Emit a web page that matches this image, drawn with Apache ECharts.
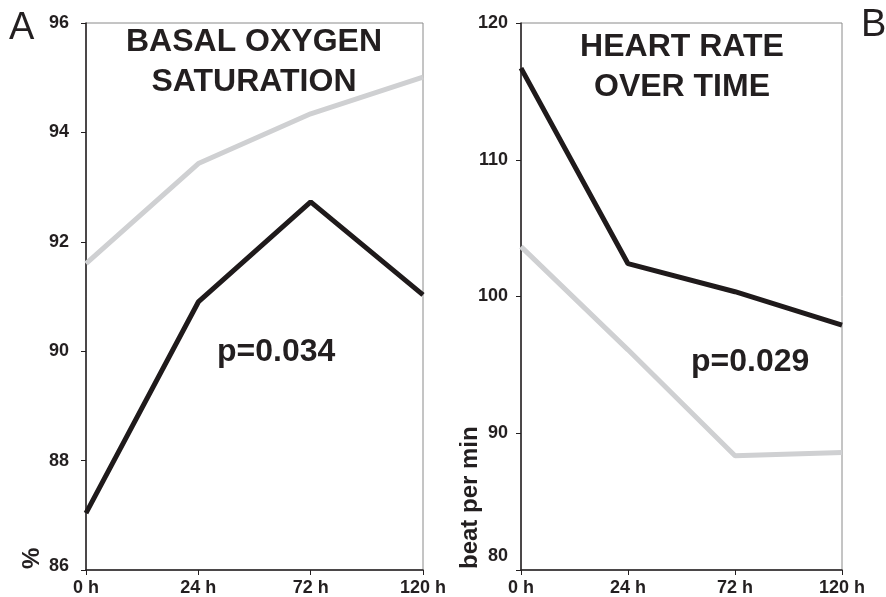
<!DOCTYPE html>
<html>
<head>
<meta charset="utf-8">
<script src="https://cdn.jsdelivr.net/npm/echarts@6/dist/echarts.min.js"></script>
<style>
  html, body { margin: 0; padding: 0; background: #fff; }
  #chart { width: 886px; height: 597px; }
</style>
</head>
<body>
<div id="chart"></div>
<script>
const hours = ['0 h', '24 h', '72 h', '120 h'];

// basal oxygen saturation (%)
const oxygenBlack = [87.04, 90.9, 92.73, 91.03];
const oxygenGray = [91.6, 93.43, 94.34, 95.01];

// heart rate (beat per min)
const heartBlack = [116.7, 102.4, 100.35, 97.9];
const heartGray = [103.65, 96.1, 88.35, 88.6];

const inkColor = '#231f20';
const blackLine = '#1f1a1b';
const grayLine = '#cfd0d2';
const fontFamily = 'Liberation Sans, Arial, sans-serif';

const chart = echarts.init(document.getElementById('chart'));

const xAxisBase = {
  type: 'category',
  data: hours,
  boundaryGap: false,
  axisLine: { lineStyle: { color: inkColor, width: 1.5 } },
  axisTick: { show: true, length: 5, lineStyle: { color: inkColor } },
  axisLabel: { color: inkColor, fontSize: 18, fontWeight: 'bold', fontFamily, margin: 9 },
  splitLine: { show: false }
};

// bottom label is nudged up a bit so it clears the x labels
function yAxisFor(gridIndex, min, max, interval, margin, lift) {
  return {
    type: 'value',
    gridIndex,
    min,
    max,
    interval,
    axisLine: { show: true, lineStyle: { color: inkColor, width: 1.5 } },
    axisTick: { show: true, length: 5, lineStyle: { color: inkColor } },
    splitLine: { show: false },
    axisLabel: {
      color: inkColor,
      fontSize: 18,
      fontWeight: 'bold',
      fontFamily,
      margin,
      formatter: v => (v === min ? '{low|' + v + '}' : String(v)),
      rich: { low: { fontSize: 18, fontWeight: 'bold', fontFamily, color: inkColor, padding: [0, 0, lift, 0] } }
    }
  };
}

function lineSeries(xi, data, color) {
  return {
    type: 'line',
    xAxisIndex: xi,
    yAxisIndex: xi,
    data,
    symbol: 'none',
    lineStyle: { color, width: 5 },
    z: color === grayLine ? 2 : 3
  };
}

const option = {
  backgroundColor: '#fff',
  animation: false,
  title: [
    {
      text: 'BASAL OXYGEN\nSATURATION',
      left: 254,
      top: 22,
      padding: 0,
      textAlign: 'center',
      textStyle: { color: inkColor, fontSize: 32, fontWeight: 'bold', fontFamily, lineHeight: 40 }
    },
    {
      text: 'HEART RATE\nOVER TIME',
      left: 682,
      top: 27,
      padding: 0,
      textAlign: 'center',
      textStyle: { color: inkColor, fontSize: 32, fontWeight: 'bold', fontFamily, lineHeight: 40 }
    }
  ],
  grid: [
    { left: 86, right: 463, top: 23, bottom: 27, show: true, borderColor: '#8a8a8a', borderWidth: 1 },
    { left: 521, right: 44, top: 23, bottom: 27, show: true, borderColor: '#8a8a8a', borderWidth: 1 }
  ],
  xAxis: [
    Object.assign({}, xAxisBase, { gridIndex: 0 }),
    Object.assign({}, xAxisBase, { gridIndex: 1 })
  ],
  yAxis: [
    yAxisFor(0, 86, 96, 2, 17, 8),
    yAxisFor(1, 80, 120, 10, 13, 28)
  ],
  series: [
    lineSeries(0, oxygenGray, grayLine),
    lineSeries(0, oxygenBlack, blackLine),
    lineSeries(1, heartGray, grayLine),
    lineSeries(1, heartBlack, blackLine)
  ],
  graphic: [
    { type: 'text', left: 9, top: 10, style: { text: 'A', fill: inkColor, fontSize: 38, fontFamily } },
    { type: 'text', left: 861, top: 7, style: { text: 'B', fill: inkColor, fontSize: 38, fontFamily } },
    { type: 'text', x: 217, y: 352, style: { text: 'p=0.034', fill: inkColor, fontSize: 32, fontWeight: 'bold', fontFamily, verticalAlign: 'middle' } },
    { type: 'text', x: 691, y: 362, style: { text: 'p=0.029', fill: inkColor, fontSize: 32, fontWeight: 'bold', fontFamily, verticalAlign: 'middle' } },
    { type: 'text', x: 32, y: 569, rotation: Math.PI / 2, style: { text: '%', fill: inkColor, fontSize: 24, fontWeight: 'bold', fontFamily, align: 'left', verticalAlign: 'middle' } },
    { type: 'text', x: 470, y: 569, rotation: Math.PI / 2, style: { text: 'beat per min', fill: inkColor, fontSize: 24, fontWeight: 'bold', fontFamily, align: 'left', verticalAlign: 'middle' } }
  ]
};

chart.setOption(option);
</script>
</body>
</html>
